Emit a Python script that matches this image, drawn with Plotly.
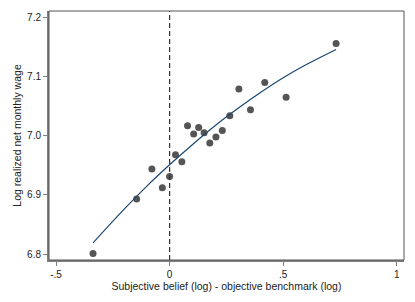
import plotly.graph_objects as go

# Scatter data (binned means)
x_pts = [-0.337, -0.145, -0.078, -0.032, 0.000, 0.026, 0.054, 0.079, 0.106, 0.128,
         0.152, 0.177, 0.204, 0.232, 0.265, 0.305, 0.356, 0.419, 0.513, 0.733]
y_pts = [6.801, 6.893, 6.944, 6.912, 6.931, 6.968, 6.956, 7.017, 7.003, 7.014,
         7.005, 6.988, 6.998, 7.009, 7.034, 7.079, 7.044, 7.090, 7.065, 7.156]

# Fitted curve
x_fit = [-0.337, -0.2, -0.1, 0.0, 0.1, 0.2, 0.3, 0.4, 0.5, 0.6, 0.733]
y_fit = [6.819, 6.876, 6.915, 6.951, 6.985, 7.017, 7.046, 7.073, 7.098, 7.120, 7.146]

x_ticks = [-0.5, 0, 0.5, 1]
x_tick_labels = ["-.5", "0", ".5", "1"]
y_ticks = [6.8, 6.9, 7.0, 7.1, 7.2]
y_tick_labels = ["6.8", "6.9", "7.0", "7.1", "7.2"]

fig = go.Figure()
fig.add_trace(go.Scatter(x=x_pts, y=y_pts, mode="markers",
                         marker=dict(color="#555555", size=7, line=dict(width=0)),
                         showlegend=False, hoverinfo="skip"))
fig.add_trace(go.Scatter(x=x_fit, y=y_fit, mode="lines", line_shape="spline",
                         line=dict(color="#1a476f", width=1.2),
                         showlegend=False, hoverinfo="skip"))

fig.add_shape(type="line", xref="x", yref="paper", x0=0, x1=0, y0=0, y1=1,
              line=dict(color="#333333", width=1.2, dash="5px,3px"))
fig.add_shape(type="rect", xref="paper", yref="paper", x0=0, x1=1, y0=0, y1=1,
              line=dict(color="#555555", width=1))

font = dict(family="Liberation Sans, Arial, sans-serif", size=10, color="#222222")

fig.update_layout(
    width=415, height=302,
    margin=dict(l=49, r=11, t=11, b=42),
    paper_bgcolor="white", plot_bgcolor="white",
    font=font,
    xaxis=dict(range=[-0.531, 1.032], tickvals=x_ticks, ticktext=x_tick_labels,
               automargin=False,
               showgrid=False, zeroline=False, showline=True, linecolor="#808080",
               linewidth=2, ticks="outside", ticklen=4, tickcolor="#808080",
               title=dict(text="Subjective belief (log) - objective benchmark (log)",
                          font=dict(size=10.5), standoff=0)),
    yaxis=dict(range=[6.790, 7.211], tickvals=y_ticks, ticktext=y_tick_labels,
               automargin=False,
               showgrid=False, zeroline=False, showline=True, linecolor="#808080",
               linewidth=2, ticks="outside", ticklen=4, tickcolor="#808080",
               title=dict(text="Log realized net monthly wage",
                          font=dict(size=10.5), standoff=3)),
)

fig.write_html("out.html", config={"displayModeBar": False},
               post_script="document.body.style.margin='0';document.body.style.padding='0';")
